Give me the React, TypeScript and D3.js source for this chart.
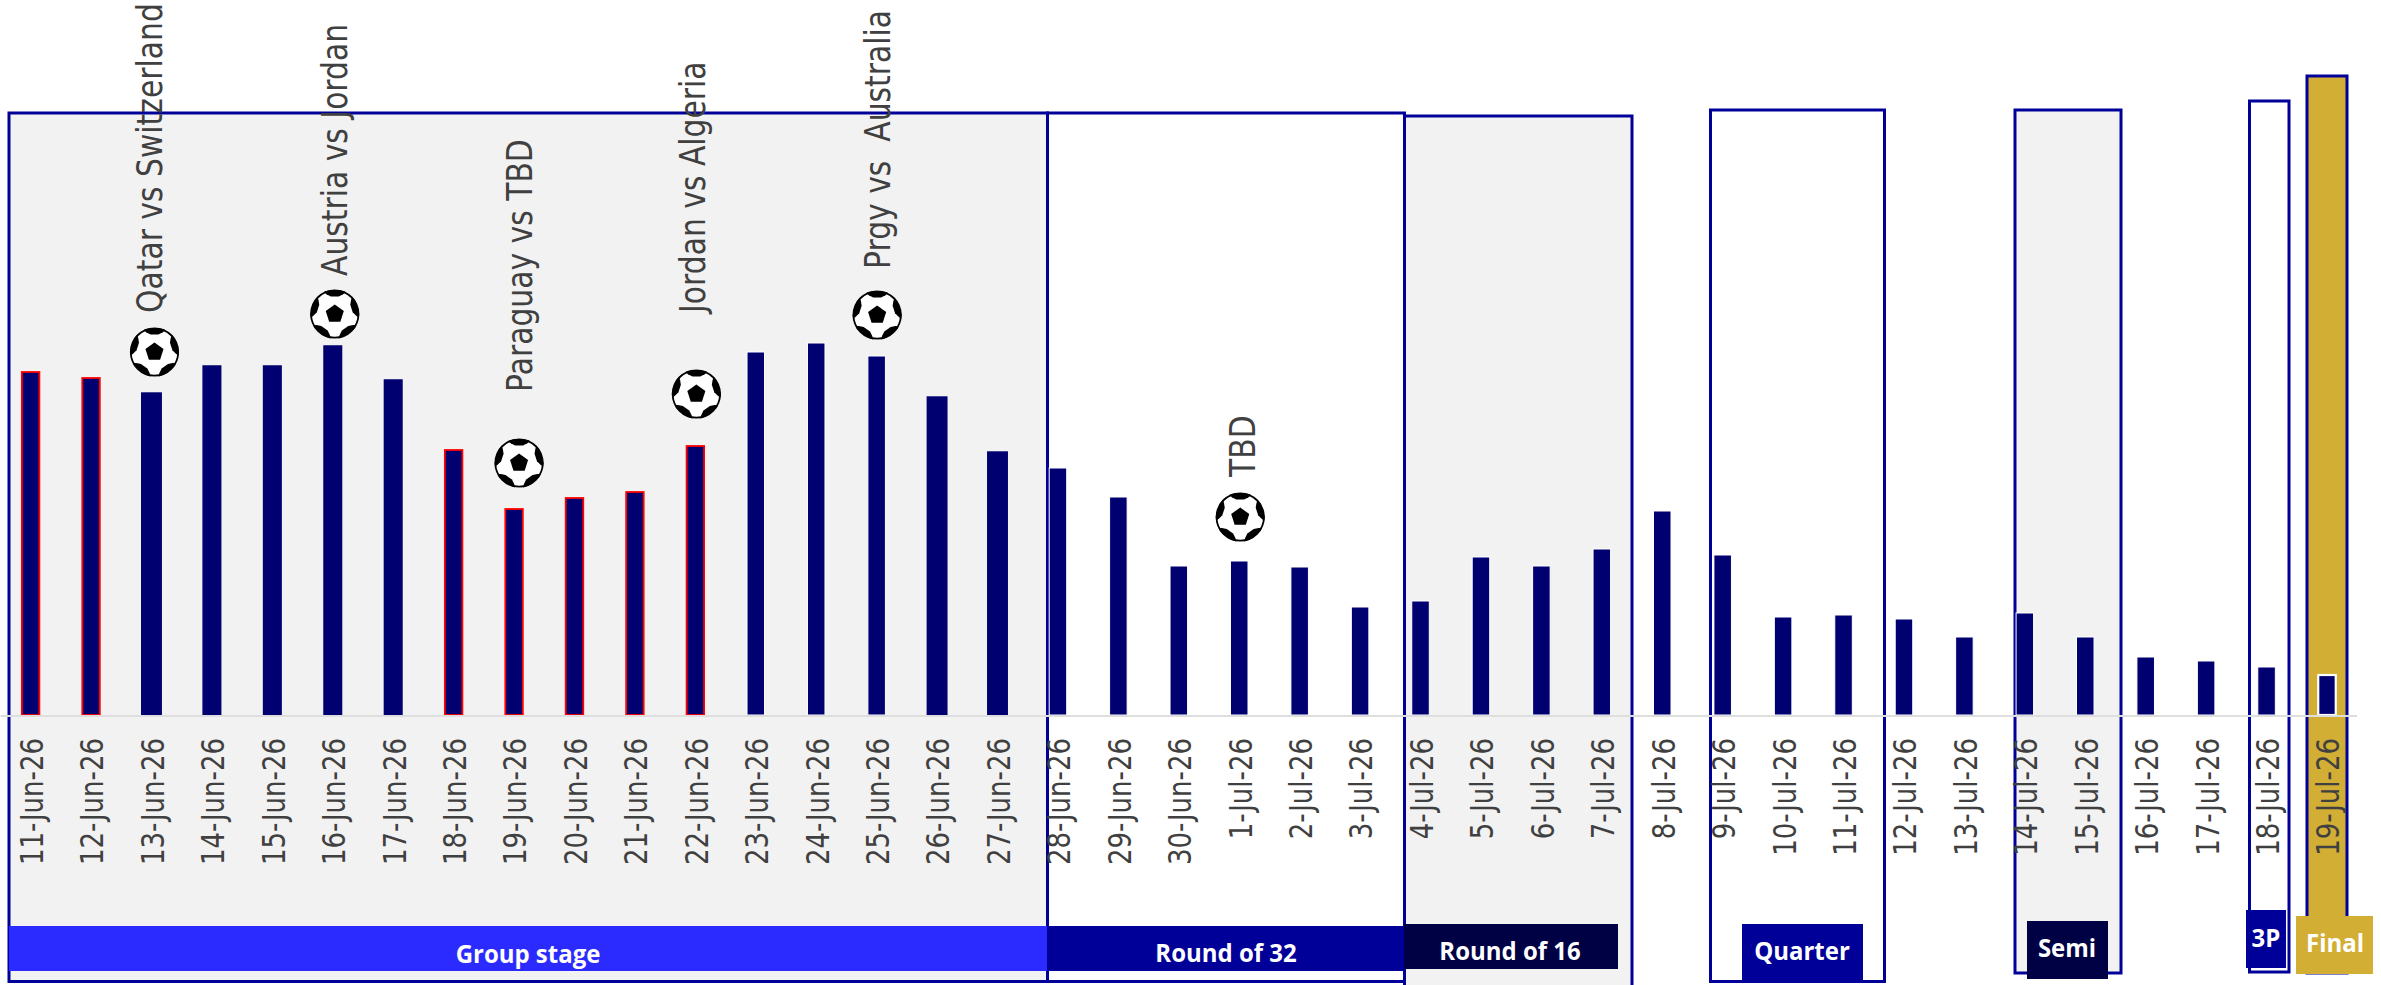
import React from "react";
import * as d3 from "d3";

const WIDTH = 2381;
const HEIGHT = 985;

const juneDays = d3.range(11, 31).map((d) => `${d}-Jun-26`);
const julyDays = d3.range(1, 20).map((d) => `${d}-Jul-26`);
const dates = [...juneDays, ...julyDays];

const values = [
  344, 338, 322, 350, 350, 370, 336, 266, 207, 218, 224, 270, 364, 373, 360, 318, 263, 248, 219, 150,
  155, 149, 109, 115, 159, 150, 167, 205, 161, 99, 101, 97, 79, 103, 79, 59, 55, 49, 41,
];

const redOutlined = ["11-Jun-26", "12-Jun-26", "18-Jun-26", "19-Jun-26", "20-Jun-26", "21-Jun-26", "22-Jun-26"];
const heavyOutlined = ["13-Jun-26", "26-Jun-26", "27-Jun-26"];
const mediumOutlined = ["14-Jun-26", "15-Jun-26", "16-Jun-26", "17-Jun-26"];

const matchDates = ["13-Jun-26", "16-Jun-26", "19-Jun-26", "22-Jun-26", "25-Jun-26", "1-Jul-26"];
const matchLabels = [
  "Qatar vs Switzerland",
  "Austria vs Jordan",
  "Paraguay vs TBD",
  "Jordan vs Algeria",
  "Prgy vs  Australia",
  "TBD",
];
const matchBallLevels = [364, 402, 253, 322, 401, 199];
const matchLabelLevels = [403, 440, 324, 403, 447, 239];

const stageNames = ["Group stage", "Round of 32", "Round of 16", "Quarter", "Semi", "3P", "Final"];

// Layout (pixels), separate from the data
const AXIS_Y = 716;
const panelLayout = [
  { x0: 9, x1: 1047.5, y0: 113, y1: 981.5, fill: "#f2f2f2" },
  { x0: 1047.5, x1: 1404.5, y0: 113, y1: 981.5, fill: "#ffffff" },
  { x0: 1404.5, x1: 1632, y0: 116, y1: 990, fill: "#f2f2f2" },
  { x0: 1710.5, x1: 1884.5, y0: 110, y1: 981.5, fill: "#ffffff" },
  { x0: 2015, x1: 2121, y0: 110, y1: 973, fill: "#f2f2f2" },
  { x0: 2249.5, x1: 2289, y0: 101, y1: 972, fill: "#ffffff" },
  { x0: 2307, x1: 2347, y0: 76, y1: 973, fill: "#d2ae35" },
];
const tagLayout = [
  { x0: 9, x1: 1047, y0: 926, y1: 971, fill: "#2b2bff", tx: 528, ty: 962.5 },
  { x0: 1047, x1: 1404, y0: 926, y1: 971, fill: "#000099", tx: 1226, ty: 962 },
  { x0: 1404, x1: 1618, y0: 924, y1: 969, fill: "#000044", tx: 1510, ty: 960 },
  { x0: 1742, x1: 1863, y0: 924, y1: 983, fill: "#000099", tx: 1802, ty: 960 },
  { x0: 2027, x1: 2108, y0: 921, y1: 979, fill: "#000044", tx: 2067, ty: 957 },
  { x0: 2246, x1: 2286, y0: 910, y1: 968, fill: "#000099", tx: 2266, ty: 947 },
  { x0: 2296, x1: 2373, y0: 916, y1: 974, fill: "#d2ae35", tx: 2335, ty: 952 },
];
const ballDx = [3, 2, 5, 1, 0.5, 1];
const labelDx = [10.5, 14, 18, 10, 13, 16];

const x = d3.scaleBand<string>().domain(dates).range([0.4, 2357.2]).paddingInner(0.71).paddingOuter(0.355);
const y = d3.scaleLinear().domain([0, 400]).range([AXIS_Y, AXIS_Y - 400]);
const cx = (d: string) => (x(d) as number) + x.bandwidth() / 2;

const BALL_R = 24.5;
const ring = d3.lineRadial<[number, number]>().curve(d3.curveLinearClosed);
const pentagon = ring(d3.range(5).map((i) => [(i * 2 * Math.PI) / 5, 9.5] as [number, number])) as string;
const patch = (a: number) =>
  ring(
    (
      [
        [a - 0.5, 27],
        [a - 0.4, 21.5],
        [a - 0.22, 18],
        [a + 0.22, 18],
        [a + 0.4, 21.5],
        [a + 0.5, 27],
      ] as [number, number][]
    ),
  ) as string;

function Ball({ px, py, id }: { px: number; py: number; id: string }) {
  return (
    <g transform={`translate(${px},${py})`}>
      <clipPath id={id}>
        <circle r={BALL_R} />
      </clipPath>
      <circle r={BALL_R} fill="#ffffff" />
      <g clipPath={`url(#${id})`}>
        {d3.range(5).map((i) => (
          <path key={i} d={patch((i * 2 * Math.PI) / 5)} fill="#000000" />
        ))}
      </g>
      <path d={pentagon} fill="#000000" />
      <circle r={BALL_R - 0.8} fill="none" stroke="#000000" strokeWidth={1.8} />
    </g>
  );
}

function barStroke(d: string, last: boolean) {
  if (redOutlined.includes(d)) return { stroke: "#ff0000", strokeWidth: 1.8 };
  if (heavyOutlined.includes(d)) return { stroke: "#000070", strokeWidth: 3.4 };
  if (mediumOutlined.includes(d)) return { stroke: "#000070", strokeWidth: 1.5 };
  if (last) return { stroke: "#ffffff", strokeWidth: 2.2 };
  return { stroke: "#ffffff", strokeWidth: 1 };
}

export default function App() {
  return (
    <svg
      width={WIDTH}
      height={HEIGHT}
      viewBox={`0 0 ${WIDTH} ${HEIGHT}`}
      style={{ position: "absolute", left: 0, top: 0, display: "block", background: "#ffffff" }}
    >
      {panelLayout.map((p, i) => (
        <rect
          key={i}
          x={p.x0}
          y={p.y0}
          width={p.x1 - p.x0}
          height={p.y1 - p.y0}
          fill={p.fill}
          stroke="#000099"
          strokeWidth={3}
        />
      ))}

      {dates.map((d, i) => (
        <rect
          key={d}
          x={x(d)}
          y={y(values[i])}
          width={x.bandwidth()}
          height={y(0) - y(values[i]) - 1}
          fill="#000070"
          {...barStroke(d, i === dates.length - 1)}
        />
      ))}

      <line x1={0.5} x2={2357} y1={AXIS_Y} y2={AXIS_Y} stroke="#dedede" strokeWidth={2} />

      {dates.map((d) => (
        <text
          key={d}
          transform={`translate(${cx(d) + 12.4},738) rotate(-90) scale(1,1.2)`}
          textAnchor="end"
          fontFamily="'DejaVu Sans'"
          fontSize={26}
          fill="#404040"
        >
          {d}
        </text>
      ))}

      {matchDates.map((d, i) => (
        <Ball key={d} id={`ball-${i}`} px={cx(d) + ballDx[i]} py={y(matchBallLevels[i])} />
      ))}
      {matchDates.map((d, i) => (
        <text
          key={d}
          transform={`translate(${cx(d) + labelDx[i]},${y(matchLabelLevels[i])}) rotate(-90) scale(1,1.22)`}
          fontFamily="'DejaVu Sans'"
          fontSize={29.8}
          fill="#404040"
          xmlSpace="preserve"
          style={{ whiteSpace: "pre" }}
        >
          {matchLabels[i]}
        </text>
      ))}

      {tagLayout.map((t, i) => (
        <g key={i}>
          <rect x={t.x0} y={t.y0} width={t.x1 - t.x0} height={t.y1 - t.y0} fill={t.fill} />
          <text
            transform={`translate(${t.tx},${t.ty}) scale(0.94,1)`}
            textAnchor="middle"
            fontFamily="'Open Sans'"
            fontWeight={700}
            fontSize={25.5}
            fill="#ffffff"
          >
            {stageNames[i]}
          </text>
        </g>
      ))}
    </svg>
  );
}
